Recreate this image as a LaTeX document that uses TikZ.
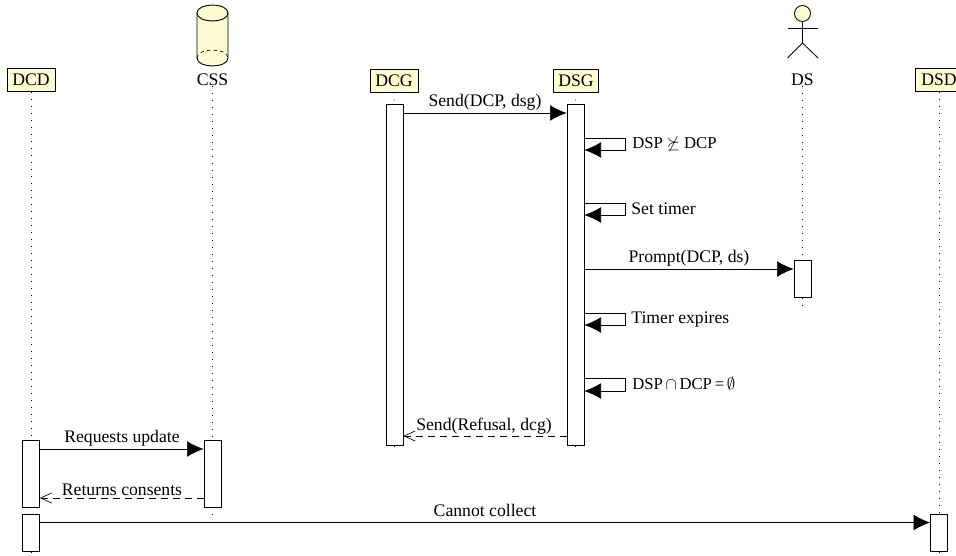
\documentclass[tikz,border=0pt]{standalone}
\usepackage{amsmath,amssymb}
\usepackage{fontspec}
\setmainfont{Liberation Serif}
\usetikzlibrary{arrows.meta}
\definecolor{headfill}{HTML}{FFFBD3}
\begin{document}
\begin{tikzpicture}[x=0.6pt,y=-0.6pt,font=\fontsize{10.6}{13}\selectfont]

    \tikzset{
      head/.style={
        draw,
        fill=headfill,
        minimum width=28.8pt,
        minimum height=13.8pt,
        inner sep=0pt,
      },
      plainhead/.style={
        inner sep=0pt,
      },
      bar/.style={
        draw,
        fill=white,
        anchor=north,
        minimum width=10.2pt,
        inner sep=0pt,
      },
      lifeline/.style={
        densely dotted,
        dash pattern=on 0.6pt off 3.6pt,
      },
      msg/.style={
        -{Latex[length=10pt,width=9.4pt]},
      },
      reply/.style={
        dashed,
        dash pattern=on 4.2pt off 3pt,
        -{Straight Barb[length=6.6pt,width=6pt]},
      },
      label/.style={
        inner sep=0pt,
        anchor=base,
      },
      sidelabel/.style={
        inner sep=0pt,
        anchor=base west,
      },
      mathlabel/.style={
        sidelabel,
        font=\fontsize{10}{12}\selectfont,
      },
    }
    \useasboundingbox (0,0) rectangle (956,555);

	% headers
	\node [head] (dcd) at (31,80) {DCD};
	\node [plainhead] (css) at (212.5,80) {CSS};
	\node [head] (dcg) at (394,80.5) {DCG};
	\node [head,minimum width=27pt] (dsg) at (576,80.5) {DSG};
	\node [plainhead] (ds) at (802.5,80) {DS};
	\node [head] (dsd) at (939,80) {DSD};

	% cylinder
	\draw [fill=headfill,line width=0.55pt] (197,13) .. controls (197,2.5) and (228,2.5) .. (228,13)
		-- (228,58) .. controls (228,68.5) and (197,68.5) .. (197,58) -- cycle;
	\draw [line width=0.55pt] (197,13) .. controls (197,23.5) and (228,23.5) .. (228,13);
	\draw [dashed,dash pattern=on 2pt off 2pt] (197,58) .. controls (197,47.5) and (228,47.5) .. (228,58);

	% actor
	\draw [fill=headfill,line width=0.5pt] (802.5,13.5) circle [radius=4.8pt];
	\draw [line width=0.5pt] (802.5,21.5)--(802.5,43);
	\draw [line width=0.5pt] (787.5,28.3)--(818,28.3);
	\draw [line width=0.5pt] (787.5,58)--(802.5,43)--(818,58);

	% activation bars
	\node [bar,minimum height=204.6pt] (dcgbar) at (394.5,104) {};
	\node [bar,minimum height=204.6pt] (dsgbar) at (575.5,104) {};
	\node [bar,minimum height=22.2pt] (dsbar) at (802.5,260) {};
	\node [bar,minimum height=40pt] (dcdbar) at (31,440) {};
	\node [bar,minimum height=40pt] (cssbar) at (212.5,440) {};
	\node [bar,minimum height=22.2pt] (dcdbarb) at (31,514) {};
	\node [bar,minimum height=22.2pt] (dsdbar) at (939,514) {};

	% lifeline ends
	\coordinate (dcgend) at (394.5,452);
	\coordinate (dsgend) at (575.5,452);
	\coordinate (dsend) at (802.5,306);
	\coordinate (cssend) at (212.5,516);
	\coordinate (dcdend) at (31,554);
	\coordinate (dsdend) at (939,554);

	% lifelines
	\draw [lifeline] (dcd.south) -- (dcdbar.north);
	\draw [lifeline] (dcdbar.south) -- (dcdbarb.north);
	\draw [lifeline] (dcdbarb.south) -- (dcdend);
	\draw [lifeline] (css.south) -- (cssbar.north);
	\draw [lifeline] (cssbar.south) -- (cssend);
	\draw [lifeline] (dcg.south) -- (dcgbar.north);
	\draw [lifeline] (dcgbar.south) -- (dcgend);
	\draw [lifeline] (dsg.south) -- (dsgbar.north);
	\draw [lifeline] (dsgbar.south) -- (dsgend);
	\draw [lifeline] (ds.south) -- (dsbar.north);
	\draw [lifeline] (dsbar.south) -- (dsend);
	\draw [lifeline] (dsd.south) -- (dsdbar.north);
	\draw [lifeline] (dsdbar.south) -- (dsdend);

	% messages
	\draw [msg] (dcgbar.east |- 0,113) -- (dsgbar.west |- 0,113);
	\node [label] (sendpolicy) at (485,106) {Send(DCP, dsg)};
	\draw [msg] (dsgbar.east |- 0,269) -- (dsbar.west |- 0,269);
	\node [label] (prompt) at (689,262) {Prompt(DCP, ds)};
	\draw [reply] (dsgbar.west |- 0,436) -- (dcgbar.east |- 0,436);
	\node [label] (sendrefusal) at (484,430) {Send(Refusal, dcg)};
	\draw [msg] (dcdbar.east |- 0,449) -- (cssbar.west |- 0,449);
	\node [label] (requests) at (122,442) {Requests update};
	\draw [reply] (cssbar.west |- 0,498) -- (dcdbar.east |- 0,498);
	\node [label] (returns) at (122,495) {Returns consents};
	\draw [msg] (dcdbarb.east |- 0,522.5) -- (dsdbar.west |- 0,522.5);
	\node [label] (cannot) at (485,516) {Cannot collect};

	% self messages
	\draw [msg] (dsgbar.east |- 0,138) -- (625,138) -- (625,150) -- (dsgbar.east |- 0,150);
	\node [mathlabel] (notsucc) at (632,148) {DSP $\not\succeq$ DCP};
	\draw [msg] (dsgbar.east |- 0,203) -- (625,203) -- (625,215) -- (dsgbar.east |- 0,215);
	\node [sidelabel] (settimer) at (631,214) {Set timer};
	\draw [msg] (dsgbar.east |- 0,313) -- (625,313) -- (625,325) -- (dsgbar.east |- 0,325);
	\node [sidelabel] (expires) at (631,323) {Timer expires};
	\draw [msg] (dsgbar.east |- 0,378) -- (625,378) -- (625,391) -- (dsgbar.east |- 0,391);
	\node [mathlabel] (emptyset) at (632,389) {DSP\,$\cap$\,DCP\,=\,$\emptyset$};

\end{tikzpicture}
\end{document}
